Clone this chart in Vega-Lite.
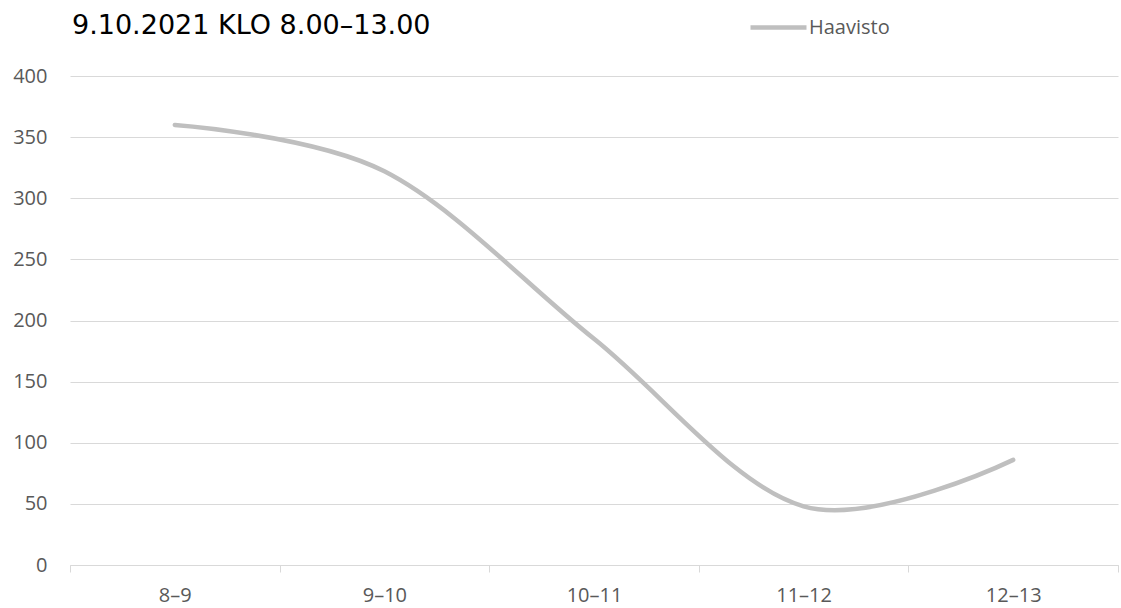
{
  "$schema": "https://vega.github.io/schema/vega-lite/v6.json",
  "width": 1048,
  "height": 489,
  "autosize": {"type": "none"},
  "padding": {"left": 70, "top": 76, "right": 3, "bottom": 43},
  "background": "white",
  "title": {
    "text": "9.10.2021 KLO 8.00–13.00",
    "anchor": "start",
    "frame": "group",
    "font": "DejaVu Sans",
    "fontSize": 27,
    "fontWeight": "normal",
    "color": "#000000",
    "baseline": "alphabetic",
    "offset": 0,
    "dy": 64,
    "dx": 2
  },
  "data": {
    "values": [
      {"time": "8–9", "value": 360, "series": "Haavisto"},
      {"time": "9–10", "value": 322, "series": "Haavisto"},
      {"time": "10–11", "value": 185, "series": "Haavisto"},
      {"time": "11–12", "value": 48, "series": "Haavisto"},
      {"time": "12–13", "value": 86, "series": "Haavisto"}
    ]
  },
  "mark": {
    "type": "line",
    "interpolate": "cardinal",
    "tension": 0,
    "strokeWidth": 4.5,
    "strokeCap": "round"
  },
  "encoding": {
    "x": {
      "field": "time",
      "type": "ordinal",
      "sort": null,
      "bandPosition": 0.5,
      "scale": {"type": "band", "paddingInner": 0, "paddingOuter": 0},
      "axis": {
        "title": null,
        "labelAngle": 0,
        "labelFont": "Open Sans",
        "labelFontSize": 20,
        "labelColor": "#595959",
        "domainColor": "#d9d9d9",
        "tickColor": "#d9d9d9",
        "tickSize": 7,
        "tickBand": "extent",
        "labelPadding": 13,
        "grid": false
      }
    },
    "y": {
      "field": "value",
      "type": "quantitative",
      "scale": {"domain": [0, 400], "nice": false},
      "axis": {
        "title": null,
        "values": [0, 50, 100, 150, 200, 250, 300, 350, 400],
        "domain": false,
        "ticks": false,
        "grid": true,
        "gridColor": "#d9d9d9",
        "labelFont": "Open Sans",
        "labelFontSize": 20,
        "labelColor": "#595959",
        "labelPadding": 23
      }
    },
    "color": {
      "field": "series",
      "type": "nominal",
      "scale": {"range": ["#bfbfbf"]},
      "legend": {
        "title": null,
        "orient": "none",
        "legendX": 678,
        "legendY": -79,
        "padding": 0,
        "symbolType": "stroke",
        "symbolSize": 3136,
        "symbolStrokeWidth": 4.5,
        "labelFont": "Open Sans",
        "labelFontSize": 20,
        "labelColor": "#595959",
        "labelOffset": 0
      }
    }
  },
  "config": {"view": {"stroke": null}}
}
